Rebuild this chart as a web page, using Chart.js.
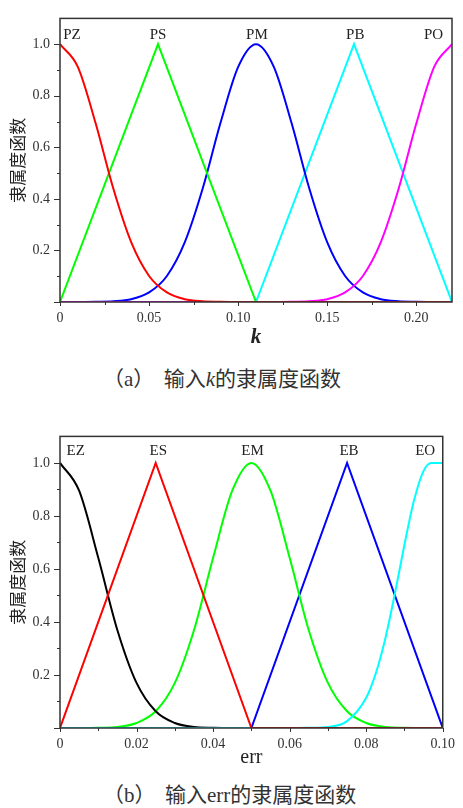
<!DOCTYPE html>
<html>
<head>
<meta charset="utf-8">
<script src="https://cdn.jsdelivr.net/npm/chart.js@4.4.1/dist/chart.umd.min.js"></script>
<style>
    body { margin: 0; background: #fff; width: 463px; height: 808px; position: relative; overflow: hidden; }
    canvas { position: absolute; left: 0; }
    .cap { position: absolute; left: 103px; font: 21px "Noto Sans CJK SC"; line-height: 24px; color: #333; white-space: pre; }
    .cap .en { font-family: "Liberation Serif", serif; }
</style>
</head>
<body>
<canvas id="chart-k" width="463" height="352" style="top:0"></canvas>
<div class="cap" style="top:365px">（<span class="en">a</span>）  输入<span class="en"><i>k</i></span>的隶属度函数</div>
<canvas id="chart-err" width="463" height="356" style="top:418px"></canvas>
<div class="cap" style="top:781px">（<span class="en">b</span>）  输入<span class="en">err</span>的隶属度函数</div>

<script>
// Input k membership functions
// ------------------------------
var kX = [0, 0.01, 0.02, 0.03, 0.04, 0.05, 0.06, 0.07, 0.08, 0.09, 0.10, 0.11,
          0.12, 0.13, 0.14, 0.15, 0.16, 0.17, 0.18, 0.19, 0.20, 0.21, 0.22];
var pzVals = [1, 0.912, 0.693, 0.438, 0.231, 0.101, 0.037, 0.011, 0.003, 0.001, 0, 0,
              0, 0, 0, 0, 0, 0, 0, 0, 0, 0, 0];
var pmVals = [0, 0, 0.001, 0.003, 0.011, 0.037, 0.101, 0.231, 0.438, 0.693, 0.912, 1,
              0.912, 0.693, 0.438, 0.231, 0.101, 0.037, 0.011, 0.003, 0.001, 0, 0];
var poVals = [0, 0, 0, 0, 0, 0, 0, 0, 0, 0, 0, 0,
              0, 0.001, 0.003, 0.011, 0.037, 0.101, 0.231, 0.438, 0.693, 0.912, 1];
var psX = [0, 0.055, 0.11];
var psVals = [0, 1, 0];
var pbX = [0.11, 0.165, 0.22];
var pbVals = [0, 1, 0];
var kNames = ['PZ', 'PS', 'PM', 'PB', 'PO'];
var kNameX = [0.0067, 0.055, 0.1105, 0.1657, 0.2096];

// Input err membership functions
// ------------------------------
var eX = [0, 0.005, 0.01, 0.015, 0.02, 0.025, 0.03, 0.035, 0.04, 0.045, 0.05,
          0.055, 0.06, 0.065, 0.07, 0.075, 0.08, 0.085, 0.09, 0.095, 0.1];
var ezVals = [1, 0.895, 0.642, 0.369, 0.170, 0.063, 0.019, 0.004, 0.001, 0, 0,
              0, 0, 0, 0, 0, 0, 0, 0, 0, 0];
var emVals = [0, 0, 0.001, 0.004, 0.019, 0.063, 0.170, 0.369, 0.642, 0.895, 1,
              0.895, 0.642, 0.369, 0.170, 0.063, 0.019, 0.004, 0.001, 0, 0];
var eoX = [0, 0.06, 0.065, 0.07, 0.075, 0.08, 0.0825, 0.085, 0.0875, 0.09, 0.0925, 0.095, 0.097, 0.1];
var eoVals = [0, 0, 0.001, 0.004, 0.026, 0.114, 0.206, 0.338, 0.507, 0.692, 0.859, 0.970, 1, 1];
var esX = [0, 0.025, 0.05, 0.1];
var esVals = [0, 1, 0, 0];
var ebX = [0.05, 0.075, 0.1];
var ebVals = [0, 1, 0];
var eNames = ['EZ', 'ES', 'EM', 'EB', 'EO'];
var eNameX = [0.0041, 0.0257, 0.0503, 0.0755, 0.0954];

var serif = '"Liberation Serif", "DejaVu Serif", serif';

function pts(xs, ys) {
    return xs.map(function (x, i) { return { x: x, y: ys[i] }; });
}

function curve(label, xs, ys, color, smooth, order) {
    return {
        label: label,
        data: pts(xs, ys),
        borderColor: color,
        borderWidth: 2,
        pointRadius: 0,
        fill: false,
        tension: 0,
        cubicInterpolationMode: smooth ? 'monotone' : 'default',
        order: order
    };
}

// frame box, tick marks and the peak names
function framePlugin(names, nameX, nameY, xMax) {
    return {
        id: 'frame',
        afterDraw: function (chart) {
            var c = chart.ctx, a = chart.chartArea;
            var xs = chart.scales.x, ys = chart.scales.y;
            c.save();
            c.strokeStyle = '#333';
            c.lineWidth = 1;
            c.beginPath();
            xs.ticks.forEach(function (t) {
                if (t.value > xMax + 1e-9) return;
                var px = Math.round(xs.getPixelForValue(t.value)) + 0.5;
                c.moveTo(px, a.bottom);
                c.lineTo(px, a.bottom + (t.label ? 4 : 3));
            });
            ys.ticks.forEach(function (t) {
                if (t.value > 1.05) return;
                var py = Math.round(ys.getPixelForValue(t.value)) + 0.5;
                var major = Math.round(t.value * 10) % 2 === 0;
                c.moveTo(a.left, py);
                c.lineTo(a.left - (major ? 6 : 3), py);
            });
            c.stroke();
            c.lineWidth = 1.5;
            c.strokeRect(a.left, a.top, a.right - a.left, a.bottom - a.top);

            c.fillStyle = '#222';
            c.font = '15px ' + serif;
            c.textAlign = 'center';
            c.textBaseline = 'middle';
            names.forEach(function (n, i) {
                c.fillText(n, xs.getPixelForValue(nameX[i]), ys.getPixelForValue(nameY));
            });
            c.restore();
        }
    };
}

function buildChart(id, datasets, xMax, xStep, xMajor, xTitle, xHeight, padRight, names, nameX, nameY) {
    var ctx = document.getElementById(id);

    // Chart Options
    var chartOptions = {
        responsive: false,
        animation: false,
        layout: { padding: { top: 5, right: padRight, left: 0, bottom: 0 } },
        plugins: { legend: { display: false }, tooltip: { enabled: false } },
        scales: {
            x: {
                type: 'linear',
                min: 0,
                max: xMax,
                afterFit: function (s) { s.height = xHeight; },
                grid: { display: false, drawTicks: false },
                border: { display: false },
                ticks: {
                    stepSize: xStep,
                    includeBounds: false,
                    autoSkip: false,
                    maxRotation: 0,
                    padding: 8,
                    color: '#333',
                    font: { family: serif, size: 14 },
                    callback: function (v) {
                        var m = Math.round(v * 1000);
                        if (m % xMajor !== 0 || v > xMax + 1e-9) return '';
                        return m === 0 ? '0' : v.toFixed(2);
                    }
                },
                title: xTitle
            },
            y: {
                min: 0,
                max: 1.1,
                afterFit: function (s) { s.width = 60; },
                grid: { display: false, drawTicks: false },
                border: { display: false },
                ticks: {
                    stepSize: 0.1,
                    includeBounds: false,
                    autoSkip: false,
                    padding: 10,
                    color: '#333',
                    font: { family: serif, size: 14 },
                    callback: function (v) {
                        var m = Math.round(v * 10);
                        if (m < 2 || m > 10 || m % 2 !== 0) return '';
                        return (m / 10).toFixed(1);
                    }
                },
                title: {
                    display: true,
                    text: '隶属度函数',
                    color: '#222',
                    font: { family: '"Noto Sans CJK SC"', size: 17 },
                    padding: { top: 7, bottom: 0 }
                }
            }
        }
    };

    // Create the chart
    return new Chart(ctx, {
        type: 'line',
        data: { datasets: datasets },
        options: chartOptions,
        plugins: [framePlugin(names, nameX, nameY, xMax)]
    });
}

buildChart('chart-k', [
    curve('PZ', kX, pzVals, '#ff0000', true, 0),
    curve('PO', kX, poVals, '#ff00ff', true, 1),
    curve('PS', psX, psVals, '#00ff00', false, 2),
    curve('PM', kX, pmVals, '#0000ff', true, 2),
    curve('PB', pbX, pbVals, '#00ffff', false, 2)
], 0.22, 0.025, 50, {
    display: true,
    text: 'k',
    color: '#222',
    font: { family: serif, size: 21, style: 'italic', weight: 'bold' },
    padding: { top: 0, bottom: 2 }
}, 50, 11, kNames, kNameX, 1.035);

buildChart('chart-err', [
    curve('ES', esX, esVals, '#ff0000', false, 0),
    curve('EO', eoX, eoVals, '#00ffff', true, 1),
    curve('EZ', eX, ezVals, '#000000', true, 2),
    curve('EM', eX, emVals, '#00ff00', true, 2),
    curve('EB', ebX, ebVals, '#0000ff', false, 2)
], 0.1, 0.01, 20, {
    display: true,
    text: 'err',
    color: '#222',
    font: { family: serif, size: 20 },
    padding: { top: 0, bottom: 4 }
}, 46, 14, eNames, eNameX, 1.043);
</script>
</body>
</html>
